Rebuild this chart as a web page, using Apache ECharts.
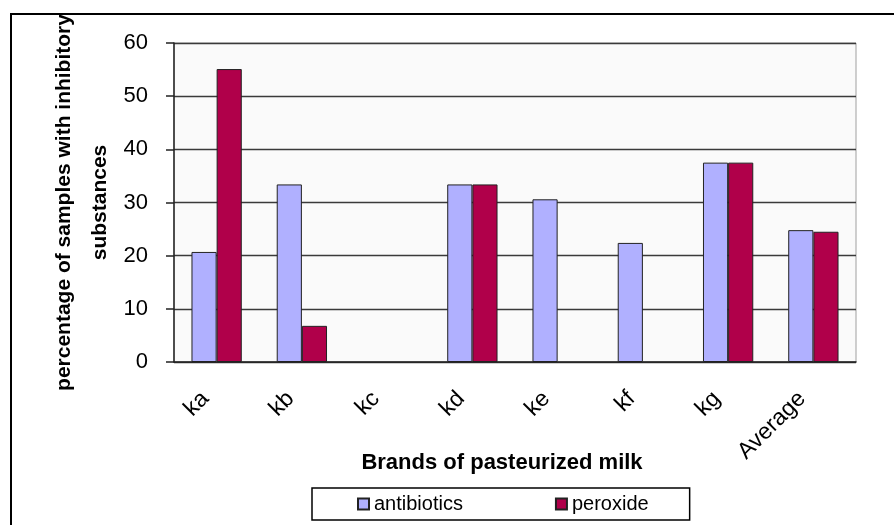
<!DOCTYPE html>
<html>
<head>
<meta charset="utf-8">
<script src="https://cdn.jsdelivr.net/npm/echarts@6/dist/echarts.min.js"></script>
<style>
  html, body { margin: 0; padding: 0; background: #fff; }
  #chart { width: 894px; height: 525px; }
</style>
</head>
<body>
<div id="chart"></div>
<script>
// brands on the x axis
const brands = ['ka', 'kb', 'kc', 'kd', 'ke', 'kf', 'kg', 'Average'];
// percentage of samples (null = no bar)
const antibiotics = [20.7, 33.4, null, 33.4, 30.6, 22.4, 37.5, 24.8];
const peroxide = [55.1, 6.8, null, 33.4, null, null, 37.5, 24.5];
const yTicks = [0, 10, 20, 30, 40, 50, 60];

const font = 'Arial, "Liberation Sans", sans-serif';
const chart = echarts.init(document.getElementById('chart'));

chart.setOption({
  animation: false,
  textStyle: { fontFamily: font },
  grid: {
    left: 174, right: 38, top: 43, bottom: 163,
    show: true, backgroundColor: '#fafafa',
    borderColor: '#a0a0a0', borderWidth: 1
  },
  legend: {
    left: 312, top: 488,
    padding: [6, 41, 6, 45],
    itemGap: 92,
    itemWidth: 11, itemHeight: 11,
    icon: 'rect',
    borderColor: '#000', borderWidth: 1.5,
    textStyle: { fontSize: 20, color: '#000', fontFamily: font }
  },
  xAxis: {
    type: 'category',
    data: brands,
    name: 'Brands of pasteurized milk',
    nameLocation: 'middle',
    nameGap: 90,
    nameMoveOverlap: false,
    nameTextStyle: {
      fontSize: 22, fontWeight: 'bold', color: '#000',
      verticalAlign: 'top', padding: [0, 26, 0, 0]
    },
    axisLine: { lineStyle: { color: '#222', width: 1.5 } },
    axisTick: { length: 7, lineStyle: { color: '#222', width: 1.5 } },
    axisLabel: { rotate: 45, fontSize: 23, color: '#000', margin: 22, padding: [0, 16, 0, 0] }
  },
  yAxis: {
    type: 'value',
    min: yTicks[0], max: yTicks[yTicks.length - 1], interval: 10,
    name: 'percentage of samples with inhibitory\nsubstances',
    nameLocation: 'middle',
    nameGap: 56,
    nameRotate: 90,
    nameMoveOverlap: false,
    nameTextStyle: { fontSize: 21, fontWeight: 'bold', color: '#000', lineHeight: 36 },
    axisLine: { show: true, lineStyle: { color: '#222', width: 1.5 } },
    axisTick: { show: true, length: 8, lineStyle: { color: '#222', width: 1.5 } },
    axisLabel: { fontSize: 22, color: '#000', margin: 26 },
    splitLine: { lineStyle: { color: '#3a3a3a', width: 1.3 } }
  },
  series: [
    {
      name: 'antibiotics', type: 'bar', data: antibiotics,
      barGap: '0%', barCategoryGap: '41%',
      itemStyle: { color: '#b0b0ff', borderColor: '#222', borderWidth: 1 }
    },
    {
      name: 'peroxide', type: 'bar', data: peroxide,
      barGap: '0%', barCategoryGap: '41%',
      itemStyle: { color: '#b0004a', borderColor: '#222', borderWidth: 1 }
    }
  ],
  graphic: [
    { type: 'line', shape: { x1: 10, y1: 14, x2: 894, y2: 14 }, style: { stroke: '#000', lineWidth: 2 } },
    { type: 'line', shape: { x1: 11, y1: 14, x2: 11, y2: 525 }, style: { stroke: '#000', lineWidth: 2 } }
  ]
});
</script>
</body>
</html>
